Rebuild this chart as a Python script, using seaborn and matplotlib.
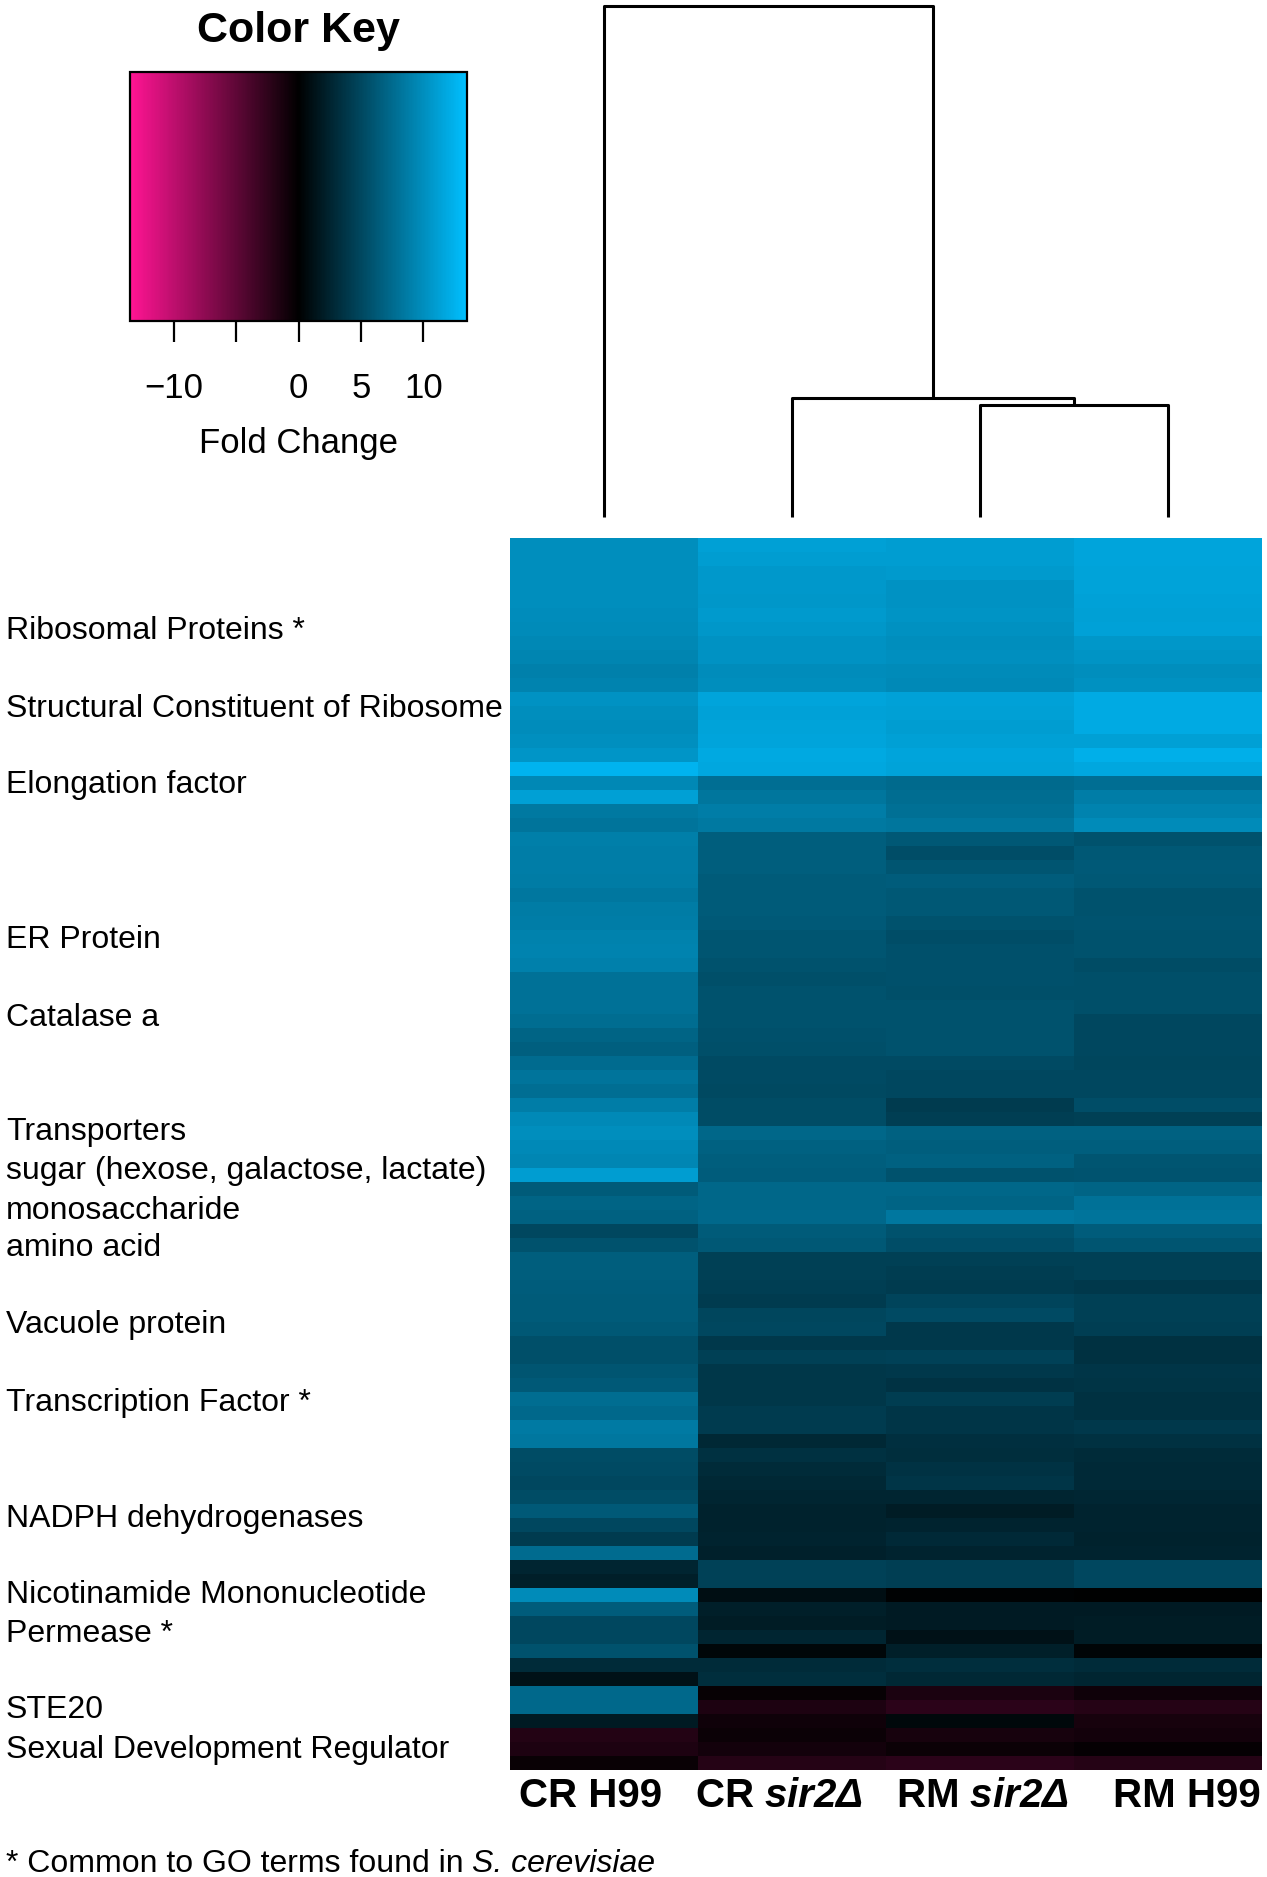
import numpy as np
import pandas as pd
import seaborn as sns
import matplotlib
matplotlib.use("Agg")
import matplotlib.pyplot as plt
import matplotlib.transforms as mtransforms
from matplotlib.colors import LinearSegmentedColormap, Normalize
from matplotlib.cm import ScalarMappable

# ---- data (fold change per gene row, top to bottom) ----
samples = ["CR H99", "CR sir2Δ", "RM sir2Δ", "RM H99"]

cr_h99 = [10.0, 10.0, 10.0, 10.0, 10.0, 9.9, 9.8, 9.5, 9.3, 9.0, 9.2, 10.3, 10.0, 9.9, 10.1, 10.5, 12.6, 9.5,
          11.2, 8.5, 8.2, 8.9, 8.8, 8.8, 8.7, 8.4, 8.7, 8.8, 9.1, 9.2, 9.0, 8.0, 8.0, 8.0, 7.6, 7.0,
          6.7, 7.5, 8.2, 7.7, 8.8, 9.7, 10.0, 9.6, 9.4, 11.0, 6.4, 7.0, 6.8, 5.0, 5.8, 6.6, 6.6, 6.5,
          6.4, 6.4, 6.2, 5.5, 5.5, 6.0, 6.3, 7.6, 7.3, 8.6, 8.4, 5.3, 5.2, 5.0, 5.3, 6.3, 5.0, 4.2,
          7.5, 2.6, 2.2, 9.8, 6.5, 5.0, 5.0, 5.8, 3.0, 1.2, 7.3, 7.3, 1.8, -1.8, -1.5, -0.5]
cr_sir2 = [11.2, 11.0, 10.7, 10.7, 10.6, 10.8, 10.6, 10.3, 10.3, 9.9, 10.0, 11.5, 11.3, 11.4, 11.5, 11.9, 11.8, 7.8,
           8.3, 8.8, 8.5, 6.6, 6.6, 6.6, 6.4, 6.4, 6.4, 6.3, 6.0, 6.0, 5.8, 5.5, 5.8, 5.8, 5.8, 5.6,
           5.5, 5.2, 5.2, 5.1, 5.3, 5.3, 7.2, 6.8, 6.6, 6.5, 7.2, 7.2, 7.3, 6.4, 6.2, 4.5, 4.5, 4.4,
           4.2, 4.9, 5.0, 4.0, 4.5, 3.9, 3.8, 3.8, 4.2, 4.2, 2.8, 3.4, 3.0, 2.8, 2.6, 2.4, 2.4, 2.5,
           2.3, 4.6, 4.6, 1.0, 2.2, 2.0, 2.6, 0.5, 3.0, 3.2, -0.4, -1.5, -0.8, -0.6, -1.0, -2.0]
rm_sir2 = [11.0, 11.0, 10.8, 10.3, 10.3, 10.4, 10.2, 10.0, 10.1, 9.8, 9.6, 11.3, 11.2, 11.0, 11.2, 11.5, 11.4, 7.4,
           7.6, 7.9, 8.3, 6.2, 5.4, 6.0, 6.5, 6.2, 6.2, 5.7, 5.4, 5.6, 5.6, 5.6, 5.5, 5.8, 5.8, 5.8,
           5.8, 5.2, 5.0, 5.0, 4.2, 4.4, 6.8, 6.6, 6.8, 5.8, 7.2, 7.0, 8.4, 5.8, 5.4, 4.5, 4.3, 4.2,
           4.8, 5.2, 4.0, 4.0, 4.6, 4.0, 3.5, 4.3, 3.7, 3.7, 3.3, 3.2, 3.5, 3.7, 2.6, 1.9, 2.5, 2.9,
           2.5, 4.4, 4.4, 0.2, 1.8, 1.8, 1.2, 2.2, 3.2, 2.8, -1.4, -2.3, 0.6, -1.2, -0.6, -2.3]
rm_h99 = [11.5, 11.5, 11.4, 11.4, 11.3, 11.2, 11.3, 10.6, 10.4, 10.0, 10.2, 12.0, 12.0, 12.0, 11.2, 12.3, 11.8, 7.7,
          8.8, 9.2, 9.8, 5.8, 6.2, 6.3, 6.2, 5.7, 5.8, 5.9, 5.8, 5.8, 5.3, 5.5, 5.5, 5.5, 5.0, 5.0,
          5.0, 4.9, 5.0, 5.0, 5.4, 4.5, 6.8, 6.6, 6.0, 5.9, 7.0, 8.0, 8.2, 6.5, 6.0, 4.5, 4.5, 4.0,
          4.5, 4.5, 4.4, 3.4, 3.4, 3.7, 3.6, 3.4, 3.4, 4.0, 3.4, 3.0, 2.9, 2.9, 2.7, 2.5, 2.5, 2.4,
          2.5, 5.0, 5.0, 0.1, 1.8, 1.9, 2.0, 0.4, 3.0, 2.6, -0.8, -1.9, -1.2, -1.0, -0.3, -2.0]

# column dendrogram: (left, right, height); ids >= 4 are earlier merges
merges = [(2, 3, 0.219), (1, 4, 0.233), (0, 5, 1.0)]

go_terms = ["Ribosomal Proteins *", "Structural Constituent of Ribosome", "Elongation factor",
            "ER Protein", "Catalase a", "Transporters", "sugar (hexose, galactose, lactate)",
            "monosaccharide", "amino acid", "Vacuole protein", "Transcription Factor *",
            "NADPH dehydrogenases", "Nicotinamide Mononucleotide", "Permease *",
            "STE20", "Sexual Development Regulator"]
go_rows = [6.4, 11.95, 17.4, 28.5, 34.0, 42.2, 45.0, 47.8, 50.5, 56.0, 61.5,
           69.8, 75.25, 78.0, 83.5, 86.3]

key_ticks = [-10, -5, 0, 5, 10]
key_ticklabels = ["\u221210", "", "0", "5", "10"]

df = pd.DataFrame({samples[0]: cr_h99, samples[1]: cr_sir2,
                   samples[2]: rm_sir2, samples[3]: rm_h99})

sns.set_style("white")
plt.rcParams['font.family'] = ['Liberation Sans', 'DejaVu Sans']
plt.rcParams['text.color'] = 'black'
plt.rcParams['xtick.color'] = 'black'
plt.rcParams['mathtext.fontset'] = 'custom'
plt.rcParams['mathtext.it'] = 'Liberation Sans:italic:bold'
plt.rcParams['mathtext.rm'] = 'Liberation Sans:italic:bold'

cmap = LinearSegmentedColormap.from_list("fc", ["deeppink", "black", "deepskyblue"])
vmin, vmax = -13.5, 13.5

W, H = 1267, 1877
fig = plt.figure(figsize=(W / 100, H / 100), dpi=100)

# heatmap
ax = fig.add_axes([510 / W, 1 - 1770 / H, 752 / W, 1232 / H])
sns.heatmap(df, cmap=cmap, vmin=vmin, vmax=vmax, cbar=False, ax=ax,
            xticklabels=False, yticklabels=False)
nrow = len(df)

# column labels, nudged as in the original layout
label_shift = [-0.07, -0.07, 0.01, 0.10]
for i, name in enumerate(samples):
    prefix, rest = name.split(" ")
    if "sir2" in rest:
        label = prefix + " $\\mathit{" + rest + "}$"
    else:
        label = name
    ax.text(i + 0.5 + label_shift[i], nrow + 1.86, label, ha="center", va="center",
            fontsize=29, fontweight="bold", clip_on=False)

# row annotations on the left
trans = mtransforms.blended_transform_factory(fig.transFigure, ax.transData)
for term, r in zip(go_terms, go_rows):
    ax.text(6 / W, r, term, transform=trans, ha="left", va="center_baseline",
            fontsize=23, clip_on=False)

# column dendrogram
dax = fig.add_axes([510 / W, 1 - 517 / H, 752 / W, 511 / H])
dax.set_xlim(0, len(samples))
dax.set_ylim(0, 1)
dax.axis("off")
pos = {i: i + 0.5 for i in range(len(samples))}
hgt = {i: 0.0 for i in range(len(samples))}
for k, (a, b, h) in enumerate(merges):
    xa, xb = pos[a], pos[b]
    dax.plot([xa, xa, xb, xb], [hgt[a], h, h, hgt[b]], color="black", lw=2.2,
             clip_on=False, solid_capstyle="butt")
    pos[len(samples) + k] = (xa + xb) / 2
    hgt[len(samples) + k] = h

# color key
cax = fig.add_axes([130 / W, 1 - 321 / H, 337 / W, 249 / H])
sm = ScalarMappable(norm=Normalize(vmin, vmax), cmap=cmap)
cb = fig.colorbar(sm, cax=cax, orientation="horizontal", ticks=key_ticks)
cb.set_ticklabels(key_ticklabels)
cb.outline.set_linewidth(1.6)
cb.outline.set_edgecolor("black")
cax.tick_params(length=15, width=1.6, pad=22, labelsize=25, color="black",
                labelcolor="black")
fig.text(298.5 / W, 1 - 31 / H, "Color Key", ha="center", va="center",
         fontsize=31, fontweight="bold")
fig.text(298.5 / W, 1 - 444 / H, "Fold Change", ha="center", va="center", fontsize=25)

# footnote
t = fig.text(6 / W, 1 - 1861 / H, "* Common to GO terms found in ", fontsize=23,
             va="center_baseline")
ax.annotate("S. cerevisiae", xy=(1, 0), xycoords=t, ha="left", va="bottom",
            fontsize=23, style="italic", annotation_clip=False)

fig.savefig("out.png", dpi=100)
